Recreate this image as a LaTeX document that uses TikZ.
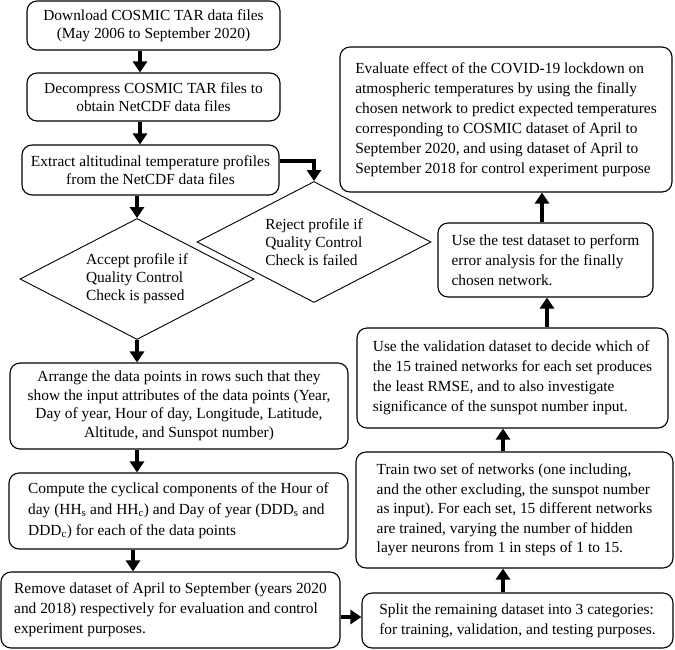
\documentclass[tikz,border=0pt]{standalone}
\usepackage{fontspec}
\setmainfont{Liberation Serif}
\frenchspacing
\usetikzlibrary{arrows.meta,shapes.geometric}
\begin{document}
\begin{tikzpicture}[x=1pt,y=-1pt,
  txt/.style={font=\fontsize{15.4}{#1}\selectfont},
  txt/.default=20,
  box/.style={draw, rounded corners=10pt, line width=1.1pt, inner sep=0pt},
  dia/.style={draw, diamond, aspect=1.93, line width=0.9pt, inner sep=0pt, minimum width=234pt, minimum height=121pt, align=left, txt=18},
  arr/.style={line width=4pt, -{Triangle[length=11pt,width=14pt]}}]
\useasboundingbox (0,0) rectangle (675,649);
\coordinate (x133) at (133,0);
\coordinate (x137) at (137,0);
\coordinate (x140) at (140,0);
\coordinate (x503) at (503,0);
\coordinate (x547) at (547,0);
\coordinate (x542) at (542,0);
\coordinate (y617) at (0,617);

\node[box, txt=18, minimum width=253pt, minimum height=49pt, align=center] (b1) at (153.5,25.5)
  {Download COSMIC TAR data files\\(May 2006 to September 2020)};
\node[box, txt=18.5, minimum width=253pt, minimum height=48pt, align=center] (b2) at (153.5,97)
  {Decompress COSMIC TAR files to\\obtain NetCDF data files};
\node[box, txt=17.5, minimum width=257pt, minimum height=50pt, align=center] (b3) at (150.5,170)
  {Extract altitudinal temperature profiles\\from the NetCDF data files};
\node[dia] (d1) at (137,279) {Accept profile if\\Quality Control\\Check is passed};
\node[dia] (d2) at (314,242) {Reject profile if\\Quality Control\\Check is failed};
\node[box, txt=18.5, minimum width=338pt, minimum height=86pt, align=center] (b4) at (179,406)
  {Arrange the data points in rows such that they\\show the input attributes of the data points (Year,\\Day of year, Hour of day, Longitude, Latitude,\\Altitude, and Sunspot number)};
\node[box, txt=21, minimum width=339pt, minimum height=76pt, align=left] (b5) at (178.5,511)
  {Compute the cyclical components of the Hour of\\day (HH\textsubscript{s} and HH\textsubscript{c}) and Day of year (DDD\textsubscript{s} and\\DDD\textsubscript{c}) for each of the data points};
\node[box, txt, minimum width=339pt, minimum height=76pt, align=left] (b6) at (170.5,610)
  {Remove dataset of April to September (years 2020\\and 2018) respectively for evaluation and control\\experiment purposes.};
\node[box, txt, minimum width=311pt, minimum height=55pt, align=left] (b7) at (517.5,620.5)
  {Split the remaining dataset into 3 categories:\\for training, validation, and testing purposes.};
\node[box, txt=19.5, minimum width=317pt, minimum height=116pt, align=left] (b8) at (514.5,510)
  {Train two set of networks (one including,\\and the other excluding, the sunspot number\\as input). For each set, 15 different networks\\are trained, varying the number of hidden\\layer neurons from 1 in steps of 1 to 15.};
\node[box, txt, minimum width=311pt, minimum height=100pt, align=left] (b9) at (512.5,378)
  {Use the validation dataset to decide which of\\the 15 trained networks for each set produces\\the least RMSE, and to also investigate\\significance of the sunspot number input.};
\node[box, txt, minimum width=215pt, minimum height=74pt, align=left] (b10) at (545.5,260)
  {Use the test dataset to perform\\error analysis for the finally\\chosen network.};
\node[box, txt, minimum width=332pt, minimum height=145pt, align=left] (b11) at (506,119.5)
  {Evaluate effect of the COVID-19 lockdown on\\atmospheric temperatures by using the finally\\chosen network to predict expected temperatures\\corresponding to COSMIC dataset of April to\\September 2020, and using dataset of April to\\September 2018 for control experiment purpose};

\draw[arr] (b1.south -| x140) -- (b2.north -| x140);
\draw[arr] (b2.south -| x140) -- (b3.north -| x140);
\draw[arr] (b3.south -| d1.north) -- (d1.north);
\draw[arr] ([yshift=9pt]b3.east) -| (d2.north);
\draw[arr] (d1.south) -- (b4.north -| d1.south);
\draw[arr] (b4.south -| x137) -- (b5.north -| x137);
\draw[arr] (b5.south -| x133) -- (b6.north -| x133);
\draw[arr] (b6.east |- y617) -- (b7.west |- y617);
\draw[arr] (b7.north -| x503) -- (b8.south -| x503);
\draw[arr] (b8.north -| x503) -- (b9.south -| x503);
\draw[arr] (b9.north -| x547) -- (b10.south -| x547);
\draw[arr] (b10.north -| x542) -- (b11.south -| x542);
\end{tikzpicture}
\end{document}
